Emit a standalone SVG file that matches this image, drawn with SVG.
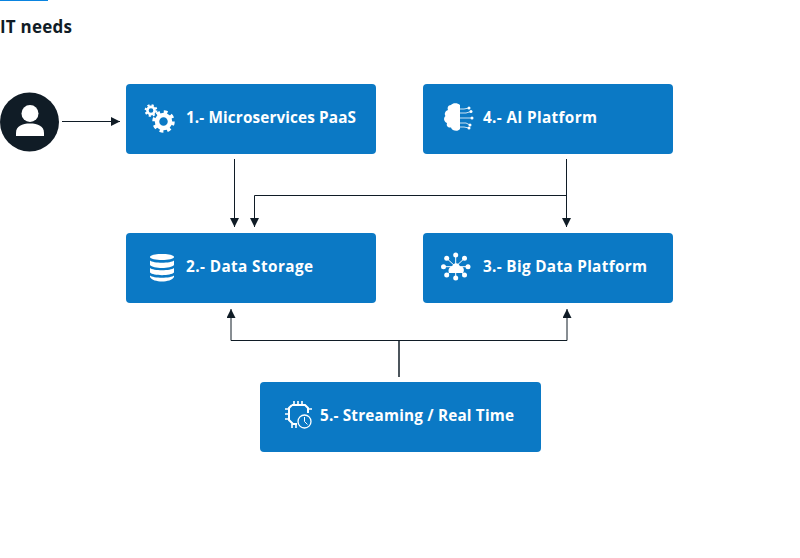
<svg xmlns="http://www.w3.org/2000/svg" width="800" height="558" viewBox="0 0 800 558">
<style>
text{font-family:"Open Sans","Noto Sans",sans-serif;font-weight:700}
.box{fill:#0b79c5}
.lbl{fill:#fff;font-size:15.300px}
.ln{fill:none;stroke:#101c26;stroke-width:1}
.w{fill:#fff}
.ws{fill:none;stroke:#fff}
.wf{fill:#fff;stroke:none}
</style>
<defs>
<marker id="a" markerUnits="userSpaceOnUse" markerWidth="10" markerHeight="10" refX="9" refY="4.5" orient="auto"><path d="M0 0L9 4.5L0 9Z" fill="#101c26"/></marker>
</defs>
<rect x="0" y="0" width="48" height="1" fill="#0a84e0"/>
<text id="title" x="0" y="33" font-size="17" textLength="72" fill="#101c26">IT needs</text>
<g id="connectors">
<path class="ln" marker-end="url(#a)" d="M62 121.500H120"/>
<path class="ln" marker-end="url(#a)" d="M234.500 159V227"/>
<path class="ln" marker-end="url(#a)" d="M566.500 159V227"/>
<path class="ln" marker-end="url(#a)" d="M566.500 195.500H254.500V227"/>
<path class="ln" d="M399 377V340.500" style="stroke-width:1.500"/>
<path class="ln" marker-end="url(#a)" d="M399 340.500H231V309"/>
<path class="ln" marker-end="url(#a)" d="M399 340.500H567V309"/>
</g>
<g id="user">
<circle cx="29.500" cy="122" r="29.500" fill="#101c26"/>
<circle class="w" cx="30" cy="113.500" r="8.500"/>
<path class="w" d="M16 136V133C16 126 22 123.500 30 123.500S44 126 44 133V136Z"/>
</g>
<g id="n1">
<rect class="box" x="126" y="84" width="250" height="70" rx="4"/>
<circle class="ws" cx="163.500" cy="121.500" r="6.500" stroke-width="4.500"/>
<circle class="ws" cx="163.500" cy="121.500" r="9.500" stroke-width="3.500" stroke-dasharray="3.700 3.760"/>
<circle class="ws" cx="151" cy="110.500" r="3.600" stroke-width="2.600"/>
<circle class="ws" cx="151" cy="110.500" r="5.400" stroke-width="2" stroke-dasharray="2.100 2.140"/>
<text class="lbl" x="186" y="123" textLength="170">1.- Microservices PaaS</text>
</g>
<g id="n4">
<rect class="box" x="423" y="84" width="250" height="70" rx="4"/>
<path class="wf" d="M460 105C458 103 453 102.500 451 105C448 105 447 108 448 110C445 111 444 114 445.500 116C443 118 444 122 447 123C446 126 448 128 451 127.500C452 131 458 132 460 129Z"/>
<path class="ws" stroke-width="0.800" d="M460 109H464L469 108M460 113H466L471 111.500M460 118H472M460 123H466L470 125M460 127H464L469 128"/>
<g class="wf"><circle cx="469" cy="108" r="1.500"/><circle cx="471" cy="111.500" r="1.500"/><circle cx="472" cy="118" r="1.500"/><circle cx="470" cy="125" r="1.500"/><circle cx="469" cy="128" r="1.500"/></g>
<text class="lbl" x="483" y="123" textLength="114">4.- AI Platform</text>
</g>
<g id="n2">
<rect class="box" x="126" y="233" width="250" height="70" rx="4"/>
<path class="w" d="M150 257C150 253 174 253 174 257C174 261 150 261 150 257Z"/>
<path class="w" d="M150 260.500C153 263.500 171 263.500 174 260.500V265C171 269 153 269 150 265Z"/>
<path class="w" d="M150 268C153 271 171 271 174 268V272.500C171 276 153 276 150 272.500Z"/>
<path class="w" d="M150 275.500C153 278.500 171 278.500 174 275.500V277C171 283 153 283 150 277Z"/>
<text class="lbl" x="186" y="272" textLength="127">2.- Data Storage</text>
</g>
<g id="n3">
<rect class="box" x="423" y="233" width="250" height="70" rx="4"/>
<path class="ws" stroke-width="1" d="M455.700 255V278M443 266.700H468M446.700 258.300L464.500 275M464.500 258.300L446.700 275"/>
<path class="wf" d="M449 273C447.500 269 450 266.500 452 266.500C453 262 459 262 460 266.500C463.500 266 465 270 463 273Z"/>
<g class="wf"><circle cx="455.700" cy="255" r="2.500"/><circle cx="455.700" cy="278" r="2.500"/><circle cx="443.500" cy="266.700" r="2.500"/><circle cx="468" cy="266.700" r="2.500"/><circle cx="446.700" cy="258.300" r="2.500"/><circle cx="464.500" cy="258.300" r="2.500"/><circle cx="446.700" cy="275" r="2.500"/><circle cx="464.500" cy="275" r="2.500"/></g>
<text class="lbl" x="483" y="272" textLength="164">3.- Big Data Platform</text>
</g>
<g id="n5">
<rect class="box" x="260" y="382" width="281" height="70" rx="4"/>
<path class="ws" stroke-width="2" d="M292 405H305L308 408V413M292 405L289 408V420L293 424H297"/>
<path class="ws" stroke-width="1.600" d="M294 401V405M298 401V405M302 401V405M285 409H289M285 414H289M285 419H289M308 409H312M292 424V428M296 424V428"/>
<circle class="ws" cx="304.500" cy="421.500" r="6.500" stroke-width="1.300"/>
<path class="ws" stroke-width="1" d="M304.500 417V421.500L307.500 424.500"/>
<text class="lbl" x="320" y="421" textLength="194">5.- Streaming / Real Time</text>
</g>
</svg>
